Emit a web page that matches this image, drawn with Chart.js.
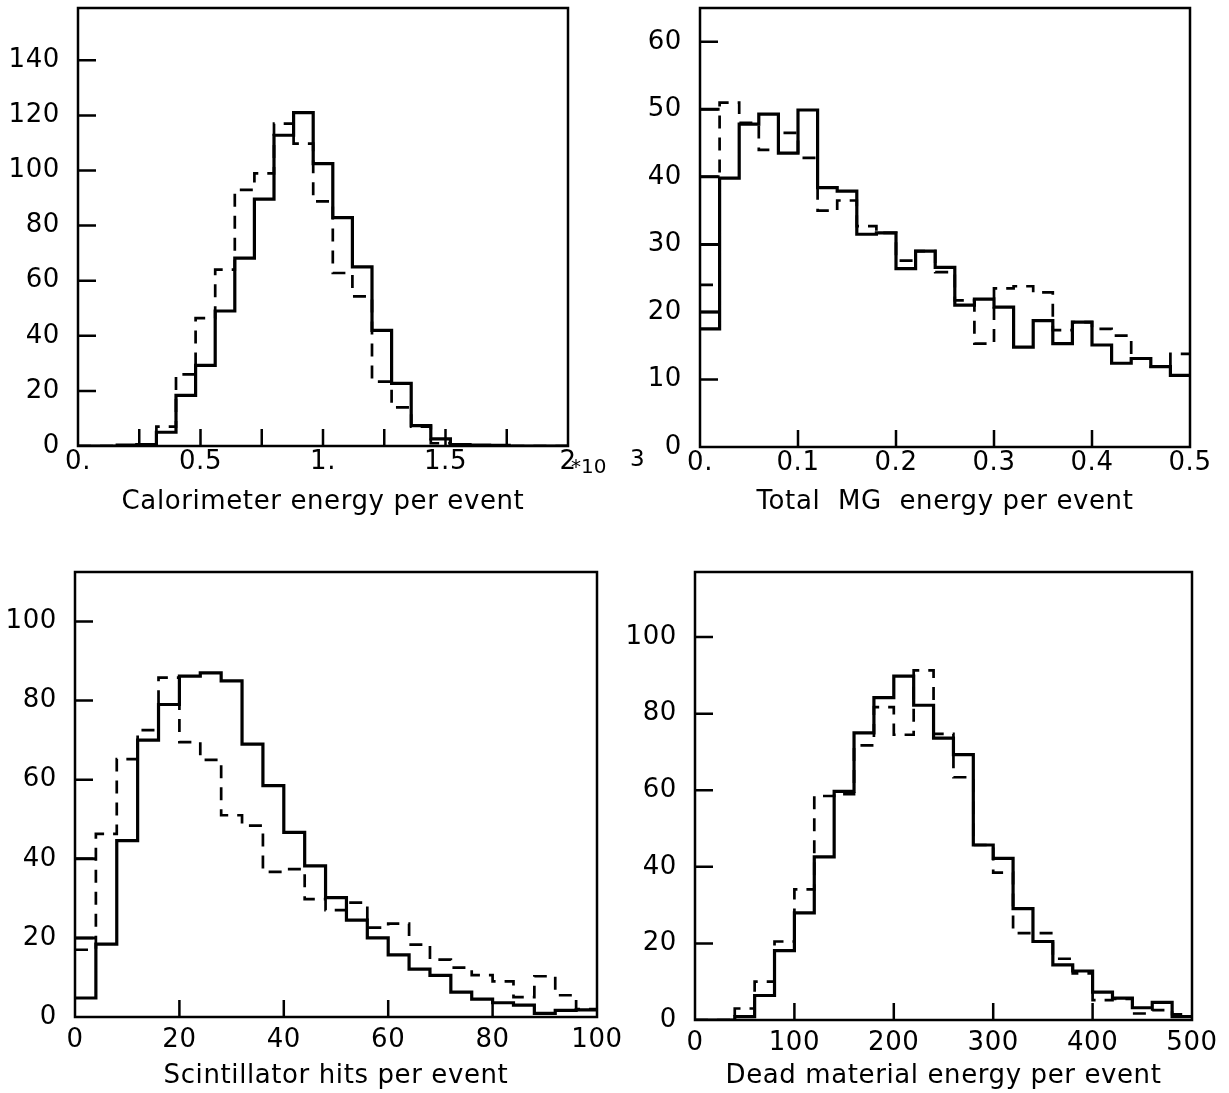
<!DOCTYPE html>
<html>
<head>
<meta charset="utf-8">
<script src="https://cdn.jsdelivr.net/npm/chart.js@4.4.0/dist/chart.umd.min.js"></script>
<style>
  body { margin: 0; background: #fff; width: 1229px; height: 1093px; position: relative; overflow: hidden; }
  canvas { position: absolute; }
  .note { position: absolute; color: #000; font-family: "DejaVu Sans", sans-serif; line-height: 1; }
</style>
</head>
<body>
<canvas id="cal" width="615" height="540" style="left:0;top:0"></canvas>
<canvas id="mg" width="614" height="540" style="left:615px;top:0"></canvas>
<canvas id="scint" width="640" height="548" style="left:0;top:545px"></canvas>
<canvas id="dead" width="614" height="548" style="left:615px;top:545px"></canvas>
<div class="note" style="left:571px;top:456px;font-size:20px">*10</div>
<div class="note" style="left:630px;top:447px;font-size:23px">3</div>
<script>
// --- calorimeter energy (x10^3), 25 bins
const calEdges = [0, 0.08, 0.16, 0.24, 0.32, 0.40, 0.48, 0.56, 0.64, 0.72, 0.80, 0.88, 0.96,
  1.04, 1.12, 1.20, 1.28, 1.36, 1.44, 1.52, 1.60, 1.68, 1.76, 1.84, 1.92, 2.00];
const calSolid = [0, 0, 0.3, 0.5, 5, 18.4, 29.3, 49, 68.2, 89.6, 112.8, 121, 102.5, 82.9, 65,
  42, 22.7, 7.4, 2.6, 0.5, 0.3, 0.2, 0, 0, 0];
const calDashed = [0, 0, 0, 0, 7, 26, 46.4, 64, 93, 99, 117, 109.8, 88.8, 62.8, 54.3,
  23.4, 14, 7, 1, 0.3, 0, 0, 0, 0, 0];
const calXLabels = ['0.', '', '0.5', '', '1.', '', '1.5', '', '2'];

// --- total MG energy, 25 bins
const mgEdges = [0, 0.02, 0.04, 0.06, 0.08, 0.10, 0.12, 0.14, 0.16, 0.18, 0.20, 0.22, 0.24,
  0.26, 0.28, 0.30, 0.32, 0.34, 0.36, 0.38, 0.40, 0.42, 0.44, 0.46, 0.48, 0.50];
const mgSolid = [17.5, 39.8, 47.8, 49.3, 43.5, 49.9, 38.4, 37.9, 31.5, 31.7, 26.4, 29, 26.6,
  21, 21.9, 20.7, 14.8, 18.7, 15.3, 18.5, 15.1, 12.4, 13.1, 11.9, 10.6];
const mgDashed = [24, 51, 48, 44, 46.5, 42.8, 35, 36.5, 32.7, 31.7, 27.6, 29, 25.9,
  21.7, 15.3, 23.5, 23.8, 22.9, 17.3, 18.5, 17.5, 16.5, 13.1, 11.9, 13.8];
const mgFirstBinMarks = [50, 40, 30, 20];
const mgXLabels = ['0.', '0.1', '0.2', '0.3', '0.4', '0.5'];

// --- scintillator hits, 25 bins
const scEdges = [0, 4, 8, 12, 16, 20, 24, 28, 32, 36, 40, 44, 48, 52, 56, 60, 64, 68, 72,
  76, 80, 84, 88, 92, 96, 100];
const scSolid = [4.8, 18.4, 44.6, 70, 79, 86.2, 87, 85, 69, 58.5, 46.7, 38.2, 30.2, 24.5,
  20, 15.7, 12.1, 10.5, 6.3, 4.5, 3.6, 3, 0.9, 1.7, 1.8];
const scDashed = [17, 46.3, 65.2, 72.5, 85.8, 69.5, 65, 51, 48.4, 36.7, 37.4, 29.8, 27,
  28.9, 22.6, 23.6, 18.3, 14.5, 12.5, 10.6, 9, 5, 10.3, 5.5, 2];
const scFirstBinMarks = [40, 20];
const scXLabels = ['0', '20', '40', '60', '80', '100'];

// --- dead material energy, 25 bins
const dmEdges = [0, 20, 40, 60, 80, 100, 120, 140, 160, 180, 200, 220, 240, 260, 280, 300,
  320, 340, 360, 380, 400, 420, 440, 460, 480, 500];
const dmSolid = [0, 0, 0.9, 6.4, 18.1, 28, 42.6, 59.7, 75, 84.2, 89.8, 82.2, 73.6, 69.3,
  45.7, 42.2, 29.1, 20.5, 14.4, 12.8, 7.3, 5.7, 3.2, 4.6, 0.9];
const dmDashed = [0, 0, 3, 10, 20.5, 34.1, 58.5, 59, 71.7, 81.7, 74.5, 91.3, 74.7, 63.4,
  45.7, 38.5, 22.7, 22.7, 16, 12.2, 5.2, 5.5, 1.7, 2.6, 1.5];
const dmXLabels = ['0', '100', '200', '300', '400', '500'];

Chart.defaults.font.family = '"DejaVu Sans", sans-serif';
Chart.defaults.font.size = 26;
Chart.defaults.color = '#000';

// a bit of letter spacing, the old plotter font runs wide
const wideText = {
  id: 'wideText',
  beforeDraw(chart) { chart.ctx.letterSpacing = '0.6px'; }
};

// frame box plus inward tick marks, like the old HBOOK plots
const frameTicks = {
  id: 'frameTicks',
  afterDatasetsDraw(chart) {
    const { ctx, chartArea: a, scales: { x, y } } = chart;
    ctx.save();
    ctx.strokeStyle = '#000';
    ctx.lineWidth = 2.5;
    ctx.strokeRect(a.left, a.top, a.right - a.left, a.bottom - a.top);
    ctx.beginPath();
    x.ticks.forEach(t => {
      if (t.value <= x.min || t.value >= x.max) return;
      const px = x.getPixelForValue(t.value);
      ctx.moveTo(px, a.bottom);
      ctx.lineTo(px, a.bottom - 17);
    });
    y.ticks.forEach(t => {
      if (t.value <= y.min || t.value >= y.max) return;
      const py = y.getPixelForValue(t.value);
      ctx.moveTo(a.left, py);
      ctx.lineTo(a.left + 18, py);
    });
    ctx.stroke();
    ctx.restore();
  }
};

function histPoints(edges, vals) {
  return edges.map((e, i) => ({ x: e, y: vals[Math.min(i, vals.length - 1)] }));
}

function markPoints(edges, levels) {
  const pts = [];
  levels.forEach(l => {
    pts.push({ x: edges[0], y: l }, { x: edges[1], y: l }, { x: edges[1], y: null });
  });
  return pts;
}

function makePanel(id, p) {
  const datasets = [
    { data: histPoints(p.edges, p.dashed), borderColor: '#000', borderWidth: 2.7,
      borderDash: [13, 9], stepped: 'before', pointRadius: 0, fill: false },
    { data: histPoints(p.edges, p.solid), borderColor: '#000', borderWidth: 3.2,
      stepped: 'before', pointRadius: 0, fill: false }
  ];
  if (p.marks) {
    datasets.push({ data: markPoints(p.edges, p.marks), borderColor: '#000', borderWidth: 3,
      pointRadius: 0, fill: false, spanGaps: false });
  }
  return new Chart(document.getElementById(id), {
    type: 'line',
    data: { datasets },
    plugins: [wideText, frameTicks],
    options: {
      responsive: false,
      animation: false,
      events: [],
      layout: { padding: p.pad },
      plugins: { legend: { display: false }, tooltip: { enabled: false } },
      scales: {
        x: {
          type: 'linear',
          min: p.edges[0],
          max: p.edges[p.edges.length - 1],
          grid: { display: false, drawTicks: false },
          border: { display: false },
          ticks: { stepSize: p.xStep, autoSkip: false, maxRotation: 0, padding: p.xPad,
            callback: (v, i) => p.xLabels[i] },
          title: { display: true, text: p.title,
            padding: { top: 0, bottom: p.titlePad } },
          afterFit(s) { s.height = p.xH; s.paddingLeft = 0; s.paddingRight = 0; }
        },
        y: {
          min: 0,
          max: p.yMax,
          grid: { display: false, drawTicks: false },
          border: { display: false },
          ticks: { stepSize: p.yStep, includeBounds: false, padding: 18 },
          afterFit(s) { s.width = p.yW; s.paddingTop = 0; s.paddingBottom = 0; }
        }
      }
    }
  });
}

makePanel('cal', { edges: calEdges, solid: calSolid, dashed: calDashed, xLabels: calXLabels,
  xStep: 0.25, yStep: 20, yMax: 159, title: 'Calorimeter energy per event',
  pad: { left: 0, top: 8, right: 47, bottom: 0 }, yW: 78, xH: 94, xPad: 1, titlePad: 22 });

makePanel('mg', { edges: mgEdges, solid: mgSolid, dashed: mgDashed, marks: mgFirstBinMarks,
  xLabels: mgXLabels, xStep: 0.1, yStep: 10, yMax: 65, title: 'Total  MG  energy per event',
  pad: { left: 0, top: 8, right: 39, bottom: 0 }, yW: 85, xH: 93, xPad: 1, titlePad: 22 });

makePanel('scint', { edges: scEdges, solid: scSolid, dashed: scDashed, marks: scFirstBinMarks,
  xLabels: scXLabels, xStep: 20, yStep: 20, yMax: 112.5, title: 'Scintillator hits per event',
  pad: { left: 0, top: 27, right: 43, bottom: 0 }, yW: 75, xH: 76, xPad: 8, titlePad: 1 });

makePanel('dead', { edges: dmEdges, solid: dmSolid, dashed: dmDashed, xLabels: dmXLabels,
  xStep: 100, yStep: 20, yMax: 117, title: 'Dead material energy per event',
  pad: { left: 0, top: 27, right: 37, bottom: 0 }, yW: 80, xH: 73, xPad: 8, titlePad: 1 });
</script>
</body>
</html>
